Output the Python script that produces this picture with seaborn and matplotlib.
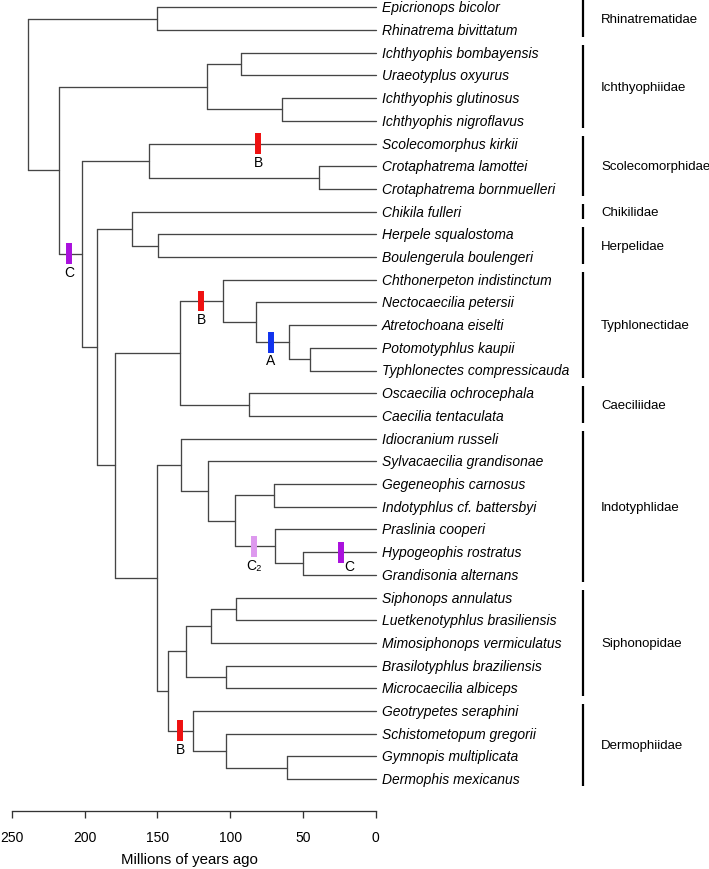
import numpy as np
import pandas as pd
import matplotlib
matplotlib.use('Agg')
import matplotlib.pyplot as plt
import seaborn as sns

# tips, top to bottom
tip_names = [
    'Epicrionops bicolor', 'Rhinatrema bivittatum',
    'Ichthyophis bombayensis', 'Uraeotyplus oxyurus', 'Ichthyophis glutinosus', 'Ichthyophis nigroflavus',
    'Scolecomorphus kirkii', 'Crotaphatrema lamottei', 'Crotaphatrema bornmuelleri',
    'Chikila fulleri', 'Herpele squalostoma', 'Boulengerula boulengeri',
    'Chthonerpeton indistinctum', 'Nectocaecilia petersii', 'Atretochoana eiselti',
    'Potomotyphlus kaupii', 'Typhlonectes compressicauda',
    'Oscaecilia ochrocephala', 'Caecilia tentaculata',
    'Idiocranium russeli', 'Sylvacaecilia grandisonae', 'Gegeneophis carnosus',
    'Indotyphlus cf. battersbyi', 'Praslinia cooperi', 'Hypogeophis rostratus', 'Grandisonia alternans',
    'Siphonops annulatus', 'Luetkenotyphlus brasiliensis', 'Mimosiphonops vermiculatus',
    'Brasilotyphlus braziliensis', 'Microcaecilia albiceps',
    'Geotrypetes seraphini', 'Schistometopum gregorii', 'Gymnopis multiplicata', 'Dermophis mexicanus',
]
tip_parent = [
    'rhin', 'rhin',
    'ich1', 'ich1', 'ich2', 'ich2',
    'scol', 'crot', 'crot',
    'chhe', 'herp', 'herp',
    'typh', 'ty1', 'ty2', 'ty3', 'ty3',
    'caecil', 'caecil',
    'indo', 'in1', 'gege', 'gege', 'in3', 'hyp', 'hyp',
    'si2', 'si2', 'si1', 'si3', 'si3',
    'derm', 'de1', 'de2', 'de2',
]

# internal nodes (ages in Ma)
node_ids = ['root', 'rhin', 'caec', 'ichth', 'ich1', 'ich2', 'tere', 'scol', 'crot', 'nb', 'chhe', 'herp',
            'nc', 'tyca', 'typh', 'ty1', 'ty2', 'ty3', 'caecil', 'nd', 'indo', 'in1', 'in2', 'gege', 'in3',
            'hyp', 'ne', 'siph', 'si1', 'si2', 'si3', 'derm', 'de1', 'de2']
node_parent = [None, 'root', 'root', 'caec', 'ichth', 'ichth', 'caec', 'tere', 'scol', 'tere', 'nb', 'chhe',
               'nb', 'nc', 'tyca', 'typh', 'ty1', 'ty2', 'tyca', 'nc', 'nd', 'indo', 'in1', 'in2', 'in2',
               'in3', 'nd', 'ne', 'siph', 'si1', 'siph', 'ne', 'derm', 'de1']
node_age = [239.2, 150.1, 217.9, 115.7, 92.6, 64.6, 201.6, 156.0, 39.0, 191.3, 167.3, 149.4,
            179.4, 134.3, 105.0, 82.3, 59.8, 44.9, 86.9, 150.1, 133.6, 115.3, 96.9, 69.7, 69.4,
            49.8, 142.5, 130.6, 113.4, 96.0, 103.1, 125.8, 102.9, 61.2]

families = ['Rhinatrematidae', 'Ichthyophiidae', 'Scolecomorphidae', 'Chikilidae', 'Herpelidae',
            'Typhlonectidae', 'Caeciliidae', 'Indotyphlidae', 'Siphonopidae', 'Dermophiidae']
family_first = [0, 2, 6, 9, 10, 12, 17, 19, 26, 31]
family_last = [1, 5, 8, 9, 11, 16, 18, 25, 30, 34]

# calibration marks: branch (ending at node/tip), age, label
mark_branch = ['Scolecomorphus kirkii', 'tere', 'typh', 'ty2', 'in3', 'Hypogeophis rostratus', 'derm']
mark_age = [80.7, 210.8, 120.0, 72.0, 83.6, 24.0, 134.3]
mark_label = ['B', 'C', 'B', 'A', 'C\u2082', 'C', 'B']
mark_color = ['#ee1111', '#aa11dd', '#ee1111', '#1133ee', '#dd99ee', '#aa11dd', '#ee1111']

time_ticks = [250, 200, 150, 100, 50, 0]

# ---- build coordinates ----
age = dict(zip(node_ids, node_age))
parent = dict(zip(node_ids, node_parent))
for t, p in zip(tip_names, tip_parent):
    age[t] = 0.0
    parent[t] = p
children = {n: [] for n in node_ids}
for n in node_ids[1:]:
    children[node_parent[node_ids.index(n)]].append(n)
for t, p in zip(tip_names, tip_parent):
    children[p].append(t)

ypos = {t: i for i, t in enumerate(tip_names)}


def get_y(n):
    if n in ypos:
        return ypos[n]
    ys = [get_y(c) for c in children[n]]
    ypos[n] = (min(ys) + max(ys)) / 2
    return ypos[n]


get_y('root')

rows = []
seg = 0
for n in list(node_ids) + tip_names:
    if parent[n] is not None:
        rows += [(age[parent[n]], ypos[n], seg), (age[n], ypos[n], seg)]
        seg += 1
    if n in children:
        ys = [ypos[c] for c in children[n]]
        rows += [(age[n], min(ys), seg), (age[n], max(ys), seg)]
        seg += 1
edges = pd.DataFrame(rows, columns=['age', 'y', 'seg'])

# ---- plot ----
sns.set_style('white')
plt.rcParams['font.family'] = ['Liberation Sans', 'DejaVu Sans']
plt.rcParams['text.color'] = 'black'
plt.rcParams['axes.labelcolor'] = 'black'
plt.rcParams['xtick.color'] = 'black'

W, H = 709, 870
px_ma = 363.7 / 250
x0 = 375.7
tip_top, tip_step = 8.3, 22.7

fig = plt.figure(figsize=(W / 100, H / 100), dpi=100)
ax = fig.add_axes([0, 0, 1, 1])
ax.set_xlim(250 + 12 / px_ma, -(W - x0) / px_ma)
ax.set_ylim((H - tip_top) / tip_step, -tip_top / tip_step)
ax.axis('off')

sns.lineplot(data=edges, x='age', y='y', units='seg', estimator=None, sort=False,
             color='#454545', linewidth=0.95, ax=ax, legend=False)

for t in tip_names:
    ax.text(-(382 - x0) / px_ma, ypos[t], t, fontsize=10, style='italic', ha='left', va='center')

bar_x = -(583 - x0) / px_ma
lab_x = -(601 - x0) / px_ma
for f, a, b in zip(families, family_first, family_last):
    ax.plot([bar_x, bar_x], [a - 0.32, b + 0.32], color='black', linewidth=1.6, solid_capstyle='butt')
    ax.text(lab_x, (a + b) / 2, f, fontsize=9.5, ha='left', va='center')

for b, a, lab, c in zip(mark_branch, mark_age, mark_label, mark_color):
    y = ypos[b]
    ax.plot([a, a], [y - 0.46, y + 0.46], color=c, linewidth=4.3, solid_capstyle='butt', zorder=5)
    if b == 'Hypogeophis rostratus':
        ax.text(a - 8.6 / px_ma, y + 0.63, lab, fontsize=10, ha='center', va='center')
    else:
        ax.text(a, y + 0.8, lab, fontsize=10, ha='center', va='center')

# time axis
tax = fig.add_axes([12 / W, (H - 811.5) / H, 363.7 / W, 0.0001])
tax.set_xlim(250, 0)
tax.set_xticks(time_ticks)
tax.set_yticks([])
sns.despine(ax=tax, left=True)
tax.spines['bottom'].set_linewidth(0.95)
tax.spines['bottom'].set_color('#333333')
tax.tick_params(axis='x', bottom=True, direction='out', length=5, width=0.95, pad=9,
                labelsize=10, color='#333333')
tax.set_xlabel('Millions of years ago', fontsize=10.8, labelpad=6)
tax.xaxis.label.set_x(0.487)
tax.patch.set_alpha(0)

fig.savefig('out.png', dpi=100)
